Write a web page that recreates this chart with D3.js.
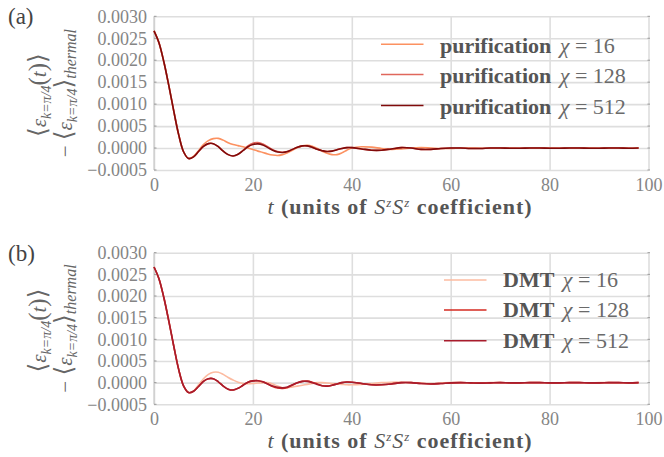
<!DOCTYPE html>
<html>
<head>
<meta charset="utf-8">
<script src="https://cdn.jsdelivr.net/npm/d3@7"></script>
<style>
  html, body { margin: 0; padding: 0; background: #fff; }
  svg { display: block; }
  svg text { font-family: "Liberation Serif", "DejaVu Serif", serif; }
</style>
</head>
<body>
<svg id="chart" width="664" height="457"></svg>
<script>
// Time samples (units of the SzSz coefficient)
const times = [
  0, 1, 2, 3, 4, 5, 6, 7, 8, 9, 10, 11, 12, 13, 14, 15, 16, 17, 18, 19, 20,
  21, 22, 23, 24, 25, 26, 27, 28, 29, 30, 31, 32, 33, 34, 35, 36, 37, 38, 39, 40,
  42, 44, 46, 48, 50, 52, 54, 56, 58, 60, 62, 64, 66, 68, 70, 72, 74, 76, 78, 80,
  82, 84, 86, 88, 90, 92, 94, 96, 98
];

// <eps_{k=pi/4}(t)> - <eps_{k=pi/4}>_thermal, in units of 1e-4
const purif16 = [
  26.7, 24.0, 19.6, 14.2, 8.4, 3.0, -0.9, -2.4, -1.9, -0.6, 0.8, 1.7, 2.15, 2.2, 1.8, 1.2, 0.8, 0.55, 0.3, 0.0, -0.35,
  -0.7, -1.0, -1.35, -1.6, -1.7, -1.5, -1.1, -0.5, 0.1, 0.5, 0.6, 0.4, -0.1, -0.7, -1.2, -1.5, -1.5, -1.1, -0.5, 0.0,
  0.3, 0.2, -0.1, -0.3, -0.2, 0.0, 0.1, 0.0, -0.1, -0.1, 0.0, 0.0, -0.05, -0.05, 0.0, 0.0, -0.05, -0.05, 0.0, 0.0,
  -0.05, -0.05, 0.0, 0.0, -0.05, 0.0, 0.0, -0.05, 0.0
];
const purif128 = [
  26.7, 24.0, 19.6, 14.2, 8.4, 3.0, -0.9, -2.4, -2.0, -0.8, 0.4, 1.0, 1.0, 0.3, -0.7, -1.5, -1.8, -1.4, -0.5, 0.5, 1.1,
  1.25, 0.95, 0.3, -0.4, -0.8, -0.95, -0.8, -0.3, 0.2, 0.5, 0.5, 0.2, -0.3, -0.6, -0.8, -0.7, -0.4, -0.1, 0.1, 0.1,
  -0.2, -0.5, -0.5, -0.2, 0.1, 0.0, -0.3, -0.3, -0.1, 0.0, 0.0, -0.1, -0.1, 0.0, 0.0, -0.05, -0.05, 0.0, 0.0, -0.05,
  -0.05, 0.0, 0.0, -0.05, -0.05, 0.0, 0.0, -0.05, 0.0
];
const purif512 = [
  26.7, 24.0, 19.6, 14.2, 8.4, 3.0, -0.9, -2.4, -2.0, -0.8, 0.4, 1.0, 1.0, 0.3, -0.7, -1.5, -1.8, -1.4, -0.6, 0.3, 0.8,
  0.95, 0.7, 0.1, -0.5, -0.9, -1.0, -0.8, -0.3, 0.2, 0.5, 0.5, 0.2, -0.3, -0.6, -0.8, -0.7, -0.4, -0.1, 0.1, 0.1,
  -0.2, -0.5, -0.5, -0.2, 0.1, 0.0, -0.3, -0.3, -0.1, 0.0, 0.0, -0.1, -0.1, 0.0, 0.0, -0.05, -0.05, 0.0, 0.0, -0.05,
  -0.05, 0.0, 0.0, -0.05, -0.05, 0.0, 0.0, -0.05, 0.0
];
const dmt16 = [
  26.7, 24.0, 19.6, 14.2, 8.4, 3.0, -0.8, -2.3, -1.9, -0.5, 0.9, 1.9, 2.4, 2.4, 1.9, 1.2, 0.6, 0.1, -0.2, -0.25, -0.2,
  -0.1, 0.0, 0.0, -0.3, -0.8, -1.2, -1.2, -1.0, -0.8, -0.6, -0.4, -0.2, 0.0, 0.0, -0.1, -0.2, -0.3, -0.4, -0.5, -0.5,
  -0.4, -0.2, 0.0, 0.1, 0.1, 0.0, -0.1, -0.2, -0.1, 0.0, 0.0, -0.05, -0.05, 0.0, 0.0, -0.05, -0.05, 0.0, 0.0, -0.05,
  -0.05, 0.0, 0.0, -0.05, 0.0, 0.0, -0.05, -0.05, 0.0
];
const dmt128 = [
  26.7, 24.0, 19.6, 14.2, 8.4, 3.0, -0.8, -2.3, -2.0, -0.9, 0.3, 0.9, 0.9, 0.2, -0.8, -1.5, -1.7, -1.3, -0.6, 0.1, 0.4,
  0.45, 0.2, -0.3, -0.9, -1.25, -1.35, -1.1, -0.6, -0.05, 0.3, 0.35, 0.1, -0.3, -0.7, -0.8, -0.6, -0.3, 0.0, 0.15, 0.1,
  -0.2, -0.5, -0.5, -0.3, 0.0, 0.0, -0.2, -0.3, -0.2, -0.05, 0.0, -0.05, -0.1, -0.05, 0.0, -0.05, -0.05, 0.0, 0.0, -0.05,
  -0.05, 0.0, 0.0, -0.05, -0.05, 0.0, 0.0, -0.05, 0.0
];
const dmt512 = [
  26.7, 24.0, 19.6, 14.2, 8.4, 3.0, -0.8, -2.3, -2.0, -0.9, 0.3, 0.9, 0.9, 0.2, -0.8, -1.5, -1.7, -1.3, -0.6, 0.1, 0.4,
  0.45, 0.2, -0.3, -0.8, -1.1, -1.2, -1.0, -0.5, 0.0, 0.3, 0.3, 0.0, -0.4, -0.7, -0.8, -0.6, -0.3, 0.0, 0.15, 0.1,
  -0.2, -0.5, -0.5, -0.3, 0.0, 0.0, -0.2, -0.3, -0.2, -0.05, 0.0, -0.05, -0.1, -0.05, 0.0, -0.05, -0.05, 0.0, 0.0, -0.05,
  -0.05, 0.0, 0.0, -0.05, -0.05, 0.0, 0.0, -0.05, 0.0
];

const xTicks = [0, 20, 40, 60, 80, 100];
const yTicks = [-5, 0, 5, 10, 15, 20, 25, 30];   // units of 1e-4
const chiLabels = ["16", "128", "512"];

const panels = [
  { tag: "(a)", method: "purification", series: [purif16, purif128, purif512],
    colors: ["#fc9160", "#e0675c", "#800a0a"],
    top: 16.3, bottom: 170, legendX: 381, legendY: [44.3, 74.5, 105.5], legendDy: 8.5 },
  { tag: "(b)", method: "DMT", series: [dmt16, dmt128, dmt512],
    colors: ["#fcbba1", "#d42a20", "#a81c2c"],
    top: 252.7, bottom: 404.3, legendX: 444, legendY: [280, 310, 340.7], legendDy: 7 }
];

const SERIF = "'Liberation Serif', 'DejaVu Serif', serif";
const svg = d3.select("#chart");
const x = d3.scaleLinear().domain([0, 100]).range([154, 648.5]);
const fmt = v => (v * 1e-4).toFixed(4).replace("-", "\u2212");

panels.forEach(p => {
  const y = d3.scaleLinear().domain([-5, 30]).range([p.bottom, p.top]);
  const g = svg.append("g");
  const plotW = x.range()[1] - x.range()[0];
  const plotH = p.bottom - p.top;

  // horizontal grid + y tick labels
  const ya = g.append("g").attr("transform", `translate(${x(0)},0)`)
    .call(d3.axisLeft(y).tickValues(yTicks).tickSize(-plotW).tickPadding(7).tickFormat(fmt))
    .attr("font-family", SERIF);
  ya.select(".domain").remove();
  ya.selectAll("line").attr("stroke", "#dedede").attr("stroke-width", 1.6);
  ya.selectAll("text").attr("fill", "#858585").style("font-size", "18px");

  // vertical grid + x tick labels
  const xa = g.append("g").attr("transform", `translate(0,${p.bottom})`)
    .call(d3.axisBottom(x).tickValues(xTicks).tickSize(-plotH).tickPadding(8).tickFormat(d3.format("d")))
    .attr("font-family", SERIF);
  xa.select(".domain").remove();
  xa.selectAll("line").attr("stroke", "#dedede").attr("stroke-width", 1.6);
  xa.selectAll("text").attr("fill", "#858585").style("font-size", "18px");

  // left spine with small ticks, and small ticks on the right edge
  g.append("line").attr("x1", x(0)).attr("x2", x(0)).attr("y1", p.top).attr("y2", p.bottom)
    .attr("stroke", "#c4c4c4").attr("stroke-width", 1);
  yTicks.forEach(t => {
    g.append("line").attr("x1", x(0)).attr("x2", x(0) + 2.5).attr("y1", y(t)).attr("y2", y(t))
      .attr("stroke", "#9a9a9a").attr("stroke-width", 1);
    g.append("line").attr("x1", x(100) - 1).attr("x2", x(100) + 1.5).attr("y1", y(t)).attr("y2", y(t))
      .attr("stroke", "#9a9a9a").attr("stroke-width", 1);
  });

  // curves
  const line = d3.line().x((d, i) => x(times[i])).y(d => y(d)).curve(d3.curveCatmullRom.alpha(0.5));
  p.series.forEach((s, k) => {
    g.append("path").datum(s).attr("d", line).attr("fill", "none")
      .attr("stroke", p.colors[k]).attr("stroke-width", 1.6).attr("stroke-linejoin", "round");
  });

  // legend
  p.legendY.forEach((ly, k) => {
    g.append("line").attr("x1", p.legendX).attr("x2", p.legendX + 42.5).attr("y1", ly).attr("y2", ly)
      .attr("stroke", p.colors[k]).attr("stroke-width", 1.6);
    const t = g.append("text").attr("x", p.legendX + 59).attr("y", ly + p.legendDy)
      .style("font-size", "22px");
    t.append("tspan").attr("font-weight", "bold").attr("fill", "#555").text(p.method);
    t.append("tspan").attr("fill", "#6a6a6a").attr("font-style", "italic").attr("dx", 3).text(" \u03c7");
    t.append("tspan").attr("fill", "#6a6a6a").text(" = " + chiLabels[k]);
  });

  // panel tag
  g.append("text").attr("x", 8).attr("y", p.top + 8).attr("fill", "#444")
    .style("font-size", "23px").text(p.tag);

  // x axis title
  const xt = g.append("text").attr("x", 400).attr("y", p.bottom + 43.5).attr("text-anchor", "middle")
    .attr("fill", "#555").style("font-size", "22px").style("letter-spacing", "1px");
  xt.append("tspan").attr("font-style", "italic").text("t");
  xt.append("tspan").attr("font-weight", "bold").text(" (units of ");
  xt.append("tspan").attr("font-style", "italic").text("S");
  xt.append("tspan").attr("font-style", "italic").attr("dy", -7).style("font-size", "13px").text("z");
  xt.append("tspan").attr("font-style", "italic").attr("dy", 7).text("S");
  xt.append("tspan").attr("font-style", "italic").attr("dy", -7).style("font-size", "13px").text("z");
  xt.append("tspan").attr("font-weight", "bold").attr("dy", 7).text(" coefficient)");

  // y axis title, two rotated lines
  const cy = (p.top + p.bottom) / 2;
  const l1 = g.append("text").attr("transform", `translate(46,${cy + 2}) rotate(-90)`)
    .attr("text-anchor", "middle").attr("fill", "#666").style("font-size", "21px");
  l1.append("tspan").style("font-size", "25px").text("\u27e8");
  l1.append("tspan").attr("font-style", "italic").text("\u03b5");
  l1.append("tspan").attr("font-style", "italic").attr("dy", 5).style("font-size", "14px").text("k=\u03c0/4");
  l1.append("tspan").attr("dy", -5).style("font-size", "25px").text("(");
  l1.append("tspan").attr("font-style", "italic").text("t");
  l1.append("tspan").style("font-size", "25px").text(")\u27e9");

  const l2 = g.append("text").attr("transform", `translate(72,${cy}) rotate(-90)`)
    .attr("text-anchor", "middle").attr("fill", "#666").style("font-size", "21px");
  l2.append("tspan").text("\u2212 ");
  l2.append("tspan").style("font-size", "25px").text("\u27e8");
  l2.append("tspan").attr("font-style", "italic").text("\u03b5");
  l2.append("tspan").attr("font-style", "italic").attr("dy", 5).style("font-size", "14px").text("k=\u03c0/4");
  l2.append("tspan").attr("dy", -5).style("font-size", "25px").text("\u27e9");
  l2.append("tspan").attr("font-style", "italic").attr("dy", 4).style("font-size", "16px").text("thermal");
});
</script>
</body>
</html>
